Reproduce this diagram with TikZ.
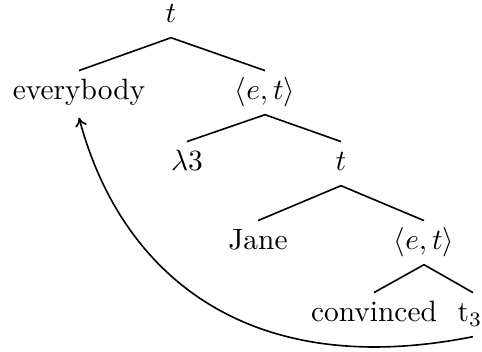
\documentclass[tikz,border=0pt]{standalone}
\usetikzlibrary{arrows.meta}
\begin{document}
\begin{tikzpicture}[x=0.34pt, y=-0.34pt,
  lbl/.style={anchor=base, inner xsep=0pt, inner ysep=2.8pt, text height=7pt, text depth=2pt},
  branch/.style={line width=0.55pt},
  movearrow/.style={line width=0.55pt, -{To[length=3pt,width=4pt]}}]
\useasboundingbox (0,0) rectangle (482,352);
\node[lbl] (root) at (171,23) {$t$};
\node[lbl] (every) at (79,100) {everybody};
\node[lbl] (et1) at (265,100) {$\langle e,t\rangle$};
\node[lbl] (lam) at (187,171) {$\lambda 3$};
\node[lbl] (t2) at (341,171) {$t$};
\node[lbl] (jane) at (258,250) {Jane};
\node[lbl] (et2) at (424,250) {$\langle e,t\rangle$};
\node[lbl] (conv) at (374,322) {convinced};
\node[lbl] (tr) at (470,322) {t$_3$};
\draw[branch] (every.north) -- (root.south) -- (et1.north);
\draw[branch] (lam.north) -- (et1.south) -- (t2.north);
\draw[branch] (jane.north) -- (t2.south) -- (et2.north);
\draw[branch] (conv.north) -- (et2.south) -- ([xshift=1pt]tr.north);
\draw[movearrow] ([xshift=1pt]tr.south) .. controls (245,382) and (120,272) .. ([yshift=-1pt]every.south);
\end{tikzpicture}
\end{document}
